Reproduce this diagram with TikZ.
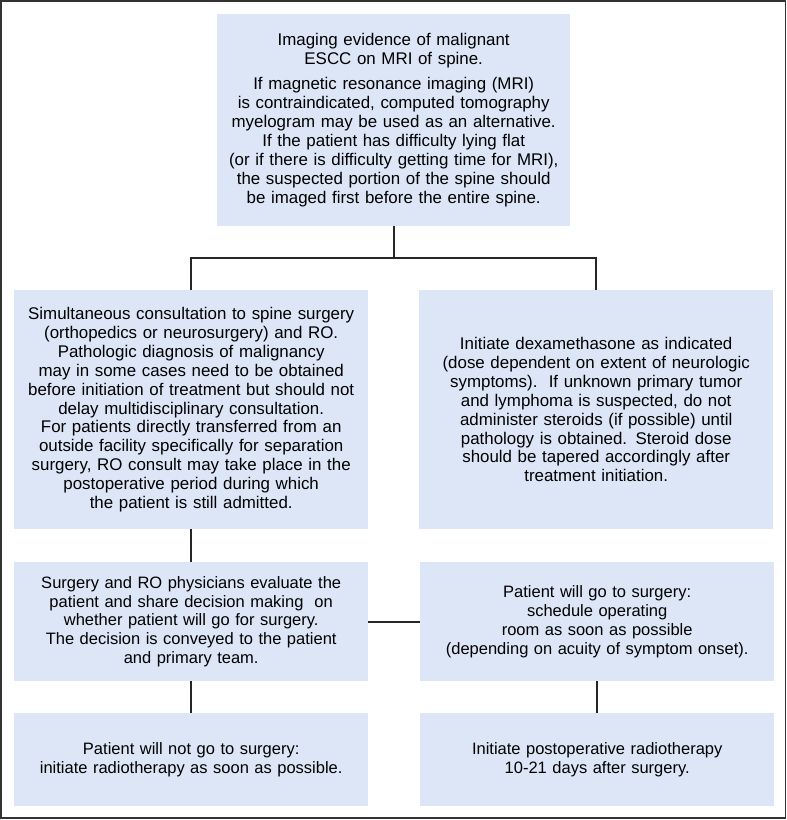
\documentclass[tikz,border=0pt]{standalone}
\usepackage{fontspec}
\setmainfont{Liberation Sans}
\usepackage{tikz}
\definecolor{bleuclair}{RGB}{220,230,247}
\tikzstyle{boite} = [rectangle, fill=bleuclair, anchor=north west, minimum width=354pt, text width=350pt, align=center, inner sep=0pt, font=\fontsize{16.9}{18.9}\selectfont]
\tikzstyle{trait} = [line width=2pt, draw=black!85]

\begin{document}
\begin{tikzpicture}[x=1pt, y=-1pt]
    \useasboundingbox (0,0) rectangle (787,820);
    \draw [line width=1.5pt, draw=black!80] (1,0.75) rectangle (785.5,818);

    \node [boite, minimum width=353pt, minimum height=212pt] (haut) at (217,14) {Imaging evidence of malignant\\ESCC on MRI of spine.\\[6pt]If magnetic resonance imaging (MRI)\\is contraindicated, computed tomography\\myelogram may be used as an alternative.\\If the patient has difficulty lying flat\\(or if there is difficulty getting time for MRI),\\the suspected portion of the spine should\\be imaged first before the entire spine.};

    \node [boite, minimum height=239pt] (consult) at (14,290) {Simultaneous consultation to spine surgery\\(orthopedics or neurosurgery) and RO.\\Pathologic diagnosis of malignancy\\may in some cases need to be obtained\\before initiation of treatment but should not\\delay multidisciplinary consultation.\\For patients directly transferred from an\\outside facility specifically for separation\\surgery, RO consult may take place in the\\postoperative period during which\\the patient is still admitted.};
    \node [boite, minimum height=239pt] (dexa) at (419,290) {Initiate dexamethasone as indicated\\(dose dependent on extent of neurologic\\symptoms).\ \ If unknown primary tumor\\and lymphoma is suspected, do not\\administer steroids (if possible) until\\pathology is obtained. Steroid dose\\should be tapered accordingly after\\treatment initiation.};

    \node [boite, minimum height=119pt, font=\fontsize{16.5}{18.8}\selectfont] (decision) at (14,562) {Surgery and RO physicians evaluate the\\patient and share decision making\ \ on\\whether patient will go for surgery.\\The decision is conveyed to the patient\\and primary team.};
    \node [boite, minimum height=119pt, font=\fontsize{16.5}{18.8}\selectfont] (chirurgie) at (420,562) {Patient will go to surgery:\\schedule operating\\room as soon as possible\\(depending on acuity of symptom onset).};

    \node [boite, minimum height=93pt, font=\fontsize{16.5}{18.8}\selectfont] (sanschir) at (14,713) {Patient will not go to surgery:\\initiate radiotherapy as soon as possible.};
    \node [boite, minimum height=93pt, font=\fontsize{16.5}{18.8}\selectfont] (postop) at (420,713) {Initiate postoperative radiotherapy\\10-21 days after surgery.};

    \draw [trait] (haut.south) -- ++(0,32) -| (consult.north);
    \draw [trait] (haut.south) ++(0,32) -| (dexa.north);
    \draw [trait] (consult.south) -- (decision.north);
    \draw [trait] (decision.east) -- (chirurgie.west);
    \draw [trait] (decision.south) -- (sanschir.north);
    \draw [trait] (chirurgie.south) -- (postop.north);
\end{tikzpicture}
\end{document}
